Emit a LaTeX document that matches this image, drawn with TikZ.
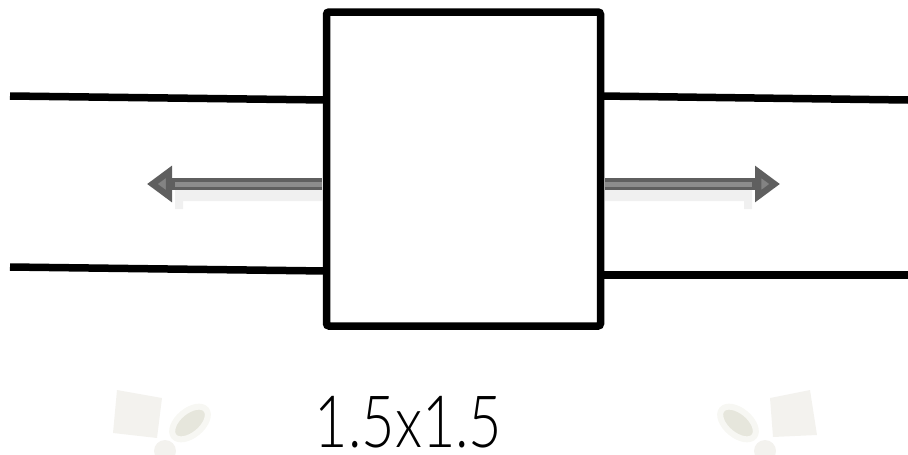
\documentclass[tikz,border=0pt]{standalone}
\usepackage{fontspec}
\setmainfont{Lato}
\newfontfamily\thinfont{Lato Light}
\usepackage{xcolor}
\usepackage{graphicx}
\usetikzlibrary{arrows.meta}
\definecolor{arrowgray}{RGB}{140,140,140}
\definecolor{arrowedge}{RGB}{95,95,95}
\definecolor{markpale}{RGB}{243,242,238}
\definecolor{markhalo}{RGB}{247,247,243}
\definecolor{markdark}{RGB}{230,230,220}
\tikzset{
  wire/.style={line width=0.15cm},
  flowshadow/.style={draw=none, fill=black, opacity=0.06},
  flowedge/.style={line width=0.24cm, draw=arrowedge, -{Triangle[length=0.5cm,width=0.7cm,fill=arrowgray!80!arrowedge]}},
  flowcore/.style={line width=0.1cm, draw=arrowgray},
  markshape/.style={fill=markpale, draw=none},
  markspot/.style={fill=markdark, draw=markhalo, line width=0.12cm}
}
\begin{document}
\begin{tikzpicture}

    % Page frame (908 x 454 px at 0.02 cm)
    \useasboundingbox (0,0) rectangle (18.16,9.08);
    \clip (0,0) rectangle (18.16,9.08);

    % Define coordinates for the box and the wires
    \coordinate (WireTL) at (0.2,7.16);
    \coordinate (WireTLend) at (6.52,7.08);
    \coordinate (WireBL) at (0.2,3.74);
    \coordinate (WireBLend) at (6.52,3.66);
    \coordinate (WireTR) at (12.02,7.16);
    \coordinate (WireTRend) at (18.16,7.08);
    \coordinate (WireBR) at (12.02,3.58);
    \coordinate (WireBRend) at (18.16,3.58);

    % Wires on both sides
    \draw[wire] (WireTL) -- (WireTLend);
    \draw[wire] (WireBL) -- (WireBLend);
    \draw[wire] (WireTR) -- (WireTRend);
    \draw[wire] (WireBR) -- (WireBRend);

    % The square
    \node[draw, fill=white, line width=0.15cm, rounded corners=0.05cm, minimum width=5.48cm, minimum height=6.28cm, inner sep=0pt, outer sep=0pt] (Box) at (9.27,5.7) {};

    % Arrows leaving the square
    \coordinate (ArrowL) at (2.94,5.4);
    \coordinate (ArrowR) at (15.6,5.4);
    \coordinate (StartL) at (6.44,5.4);
    \coordinate (StartR) at (12.1,5.4);
    \fill[flowshadow] (6.44,5.34) -- (3.5,5.34) -- (3.5,4.9) -- (3.66,4.9) -- (3.66,5.06) -- (6.44,5.06) -- cycle;
    \fill[flowshadow] (12.1,5.34) -- (15.04,5.34) -- (15.04,4.9) -- (14.88,4.9) -- (14.88,5.06) -- (12.1,5.06) -- cycle;
    \draw[flowedge] (StartL) -- (ArrowL);
    \draw[flowedge] (StartR) -- (ArrowR);
    \draw[flowcore] (StartL) -- (3.5,5.4);
    \draw[flowcore] (StartR) -- (15.04,5.4);

    % Faded marks at the bottom
    \fill[markshape] (2.34,1.28) -- (3.24,1.12) -- (3.14,0.32) -- (2.26,0.42) -- cycle;
    \draw[markspot, rotate around={40:(3.8,0.62)}] (3.8,0.62) ellipse (0.42 and 0.24);
    \fill[markshape] (3.3,0.06) circle (0.22);
    \fill[markshape] (15.4,1.12) -- (16.2,1.28) -- (16.34,0.38) -- (15.46,0.34) -- cycle;
    \draw[markspot, rotate around={-40:(14.76,0.62)}] (14.76,0.62) ellipse (0.42 and 0.24);
    \fill[markshape] (15.3,0.06) circle (0.22);

    % Size label
    \node[inner sep=0pt, anchor=base, font=\thinfont\fontsize{41}{41}\selectfont, text=black] (Size) at (8.17,0.14) {\scalebox{0.8}[1]{1.5x1.5}};

\end{tikzpicture}
\end{document}
